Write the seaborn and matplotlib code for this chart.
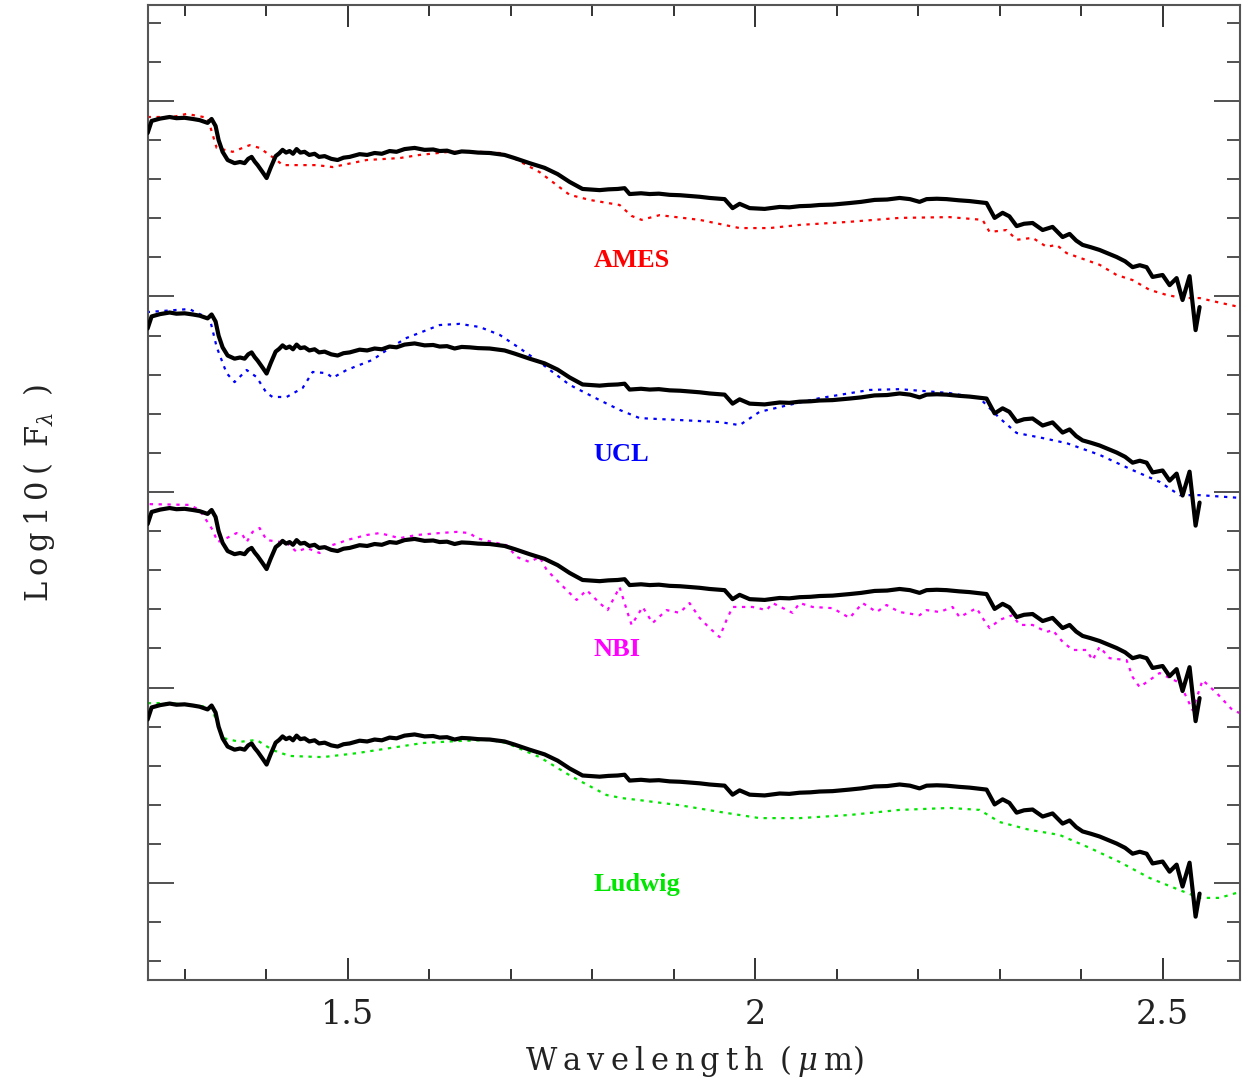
import numpy as np
import pandas as pd
import matplotlib
matplotlib.use("Agg")
import matplotlib.pyplot as plt
from matplotlib.ticker import MultipleLocator, FuncFormatter
import seaborn as sns

# ---------------- data (log10 F_lambda, arbitrary units, base = bottom panel) -------------
obs_wl = [1.2546, 1.2595, 1.2700, 1.2816, 1.2900, 1.300, 1.3100, 1.3184, 1.3282, 1.3331, 1.338,
          1.3417, 1.3466, 1.3528, 1.3613, 1.3680, 1.3736, 1.3780, 1.3822, 1.3860, 1.3896, 1.3957,
          1.4006, 1.4055, 1.4117, 1.4160, 1.4202, 1.4245, 1.4288, 1.4330, 1.4374, 1.4420, 1.4472,
          1.4530, 1.4595, 1.4650, 1.4718, 1.4800, 1.4877, 1.4950, 1.5025, 1.5147, 1.5240, 1.5331,
          1.5420, 1.5515, 1.5600, 1.5699, 1.5822, 1.5945, 1.6050, 1.6129, 1.6220, 1.6313, 1.6400,
          1.6497, 1.6600, 1.6742, 1.6926, 1.7049, 1.7233, 1.7417, 1.7577, 1.7724, 1.7883,
          1.8092, 1.8200, 1.8313, 1.8399, 1.8460, 1.8600, 1.8706, 1.8820, 1.8951, 1.9080, 1.9196,
          1.9320, 1.9442, 1.9626, 1.9724, 1.9810, 1.9933, 2.0117, 2.0301, 2.0420, 2.0546, 2.0680,
          2.0791, 2.0950, 2.1160, 2.1300, 2.1466, 2.1620, 2.1773, 2.1900, 2.2018, 2.2104, 2.2230,
          2.2350, 2.2500, 2.2632, 2.2840, 2.2939, 2.3037, 2.3120, 2.3209, 2.3300, 2.3405, 2.3528,
          2.3650, 2.3773, 2.3859, 2.3940, 2.4018, 2.4120, 2.4227, 2.4330, 2.4436, 2.4540, 2.4632,
          2.4720, 2.4804, 2.4877, 2.5000, 2.5086, 2.5172, 2.5245, 2.5331, 2.5405, 2.5454]
obs_flux = [0.418, 0.449, 0.455, 0.459, 0.456, 0.457, 0.454, 0.451, 0.444, 0.454, 0.436,
            0.400, 0.370, 0.349, 0.341, 0.344, 0.341, 0.352, 0.357, 0.345, 0.336, 0.318,
            0.303, 0.329, 0.359, 0.366, 0.375, 0.368, 0.372, 0.365, 0.377, 0.368, 0.370,
            0.362, 0.365, 0.357, 0.359, 0.352, 0.349, 0.355, 0.357, 0.364, 0.362, 0.367,
            0.365, 0.372, 0.370, 0.377, 0.380, 0.375, 0.376, 0.372, 0.373, 0.367, 0.371,
            0.370, 0.368, 0.367, 0.362, 0.354, 0.341, 0.329, 0.313, 0.293, 0.275,
            0.272, 0.274, 0.275, 0.277, 0.262, 0.264, 0.262, 0.263, 0.260, 0.259, 0.257,
            0.255, 0.252, 0.249, 0.226, 0.237, 0.226, 0.224, 0.229, 0.228, 0.231, 0.232,
            0.234, 0.235, 0.239, 0.242, 0.247, 0.248, 0.252, 0.249, 0.242, 0.249, 0.250,
            0.249, 0.246, 0.244, 0.239, 0.201, 0.214, 0.205, 0.180, 0.186, 0.188, 0.170,
            0.178, 0.152, 0.160, 0.143, 0.132, 0.126, 0.119, 0.110, 0.101, 0.090, 0.075,
            0.080, 0.075, 0.050, 0.055, 0.029, 0.047, -0.009, 0.052, -0.086, -0.027]

ames_wl = [1.2546, 1.2853, 1.3025, 1.3282, 1.3393, 1.3589, 1.3798, 1.3920, 1.4129, 1.4202, 1.4620,
           1.4816, 1.5233, 1.5638, 1.5883, 1.6252, 1.6620, 1.6865, 1.7012, 1.7356, 1.7724, 1.7969,
           1.8337, 1.8485, 1.8607, 1.8828, 1.9319, 1.9810, 2.0178, 2.0546, 2.1160, 2.1773, 2.2387,
           2.2791, 2.2877, 2.3086, 2.3209, 2.3405, 2.3577, 2.3699, 2.3822, 2.4227, 2.4436, 2.4632,
           2.4840, 2.5049, 2.5245, 2.5454, 2.5663, 2.5945]
ames_flux = [0.459, 0.459, 0.467, 0.457, 0.380, 0.370, 0.387, 0.380, 0.349, 0.336, 0.336,
             0.331, 0.349, 0.354, 0.362, 0.370, 0.370, 0.367, 0.357, 0.318, 0.260, 0.247,
             0.234, 0.206, 0.196, 0.208, 0.196, 0.175, 0.175, 0.183, 0.191, 0.201, 0.203,
             0.196, 0.165, 0.170, 0.145, 0.150, 0.127, 0.132, 0.111, 0.081, 0.055, 0.042,
             0.017, 0.004, -0.004, -0.004, -0.014, -0.027]

ucl_wl = [1.2534, 1.3061, 1.3147, 1.3307, 1.3393, 1.3515, 1.3613, 1.3761, 1.3883, 1.4006, 1.4080,
          1.4252, 1.4448, 1.4571, 1.4742, 1.4816, 1.4988, 1.5307, 1.5515, 1.5724, 1.6129, 1.6374,
          1.6620, 1.6865, 1.7110, 1.7356, 1.7724, 1.8092, 1.8337, 1.8583, 1.9074, 1.9564, 1.9810,
          2.0055, 2.0423, 2.0791, 2.1405, 2.1773, 2.2387, 2.2755, 2.3000, 2.3209, 2.3528, 2.3822,
          2.4227, 2.4632, 2.4963, 2.5209, 2.5454, 2.5945]
ucl_flux = [0.460, 0.468, 0.458, 0.445, 0.371, 0.304, 0.281, 0.312, 0.294, 0.253, 0.243,
            0.243, 0.266, 0.307, 0.304, 0.292, 0.312, 0.338, 0.368, 0.394, 0.427, 0.430,
            0.422, 0.402, 0.368, 0.332, 0.274, 0.235, 0.210, 0.189, 0.184, 0.179, 0.171,
            0.205, 0.223, 0.240, 0.261, 0.263, 0.253, 0.240, 0.189, 0.151, 0.138, 0.125,
            0.095, 0.056, 0.026, -0.008, -0.008, -0.015]

nbi_wl = [1.2571, 1.3061, 1.3184, 1.3344, 1.3405, 1.3515, 1.3638, 1.3712, 1.3761, 1.3834, 1.3920,
          1.4006, 1.4080, 1.4252, 1.4374, 1.4497, 1.4656, 1.4742, 1.4902, 1.4988, 1.5233, 1.5393,
          1.5638, 1.5847, 1.6129, 1.6337, 1.6497, 1.6583, 1.6779, 1.6951, 1.7074, 1.7233, 1.7356,
          1.7442, 1.7601, 1.7810, 1.7933, 1.8092, 1.8190, 1.8301, 1.8337, 1.8436, 1.8485, 1.8620,
          1.8742, 1.8914, 1.9074, 1.9196, 1.9319, 1.9442, 1.9564, 1.9650, 1.9724, 1.9969, 2.0141,
          2.0215, 2.0460, 2.0546, 2.0706, 2.0951, 2.1160, 2.1319, 2.1491, 2.1613, 2.1773, 2.2018,
          2.2104, 2.2264, 2.2423, 2.2509, 2.2718, 2.2791, 2.2877, 2.3000, 2.3160, 2.3245, 2.3405,
          2.3577, 2.3650, 2.3773, 2.3896, 2.4067, 2.4141, 2.4227, 2.4350, 2.4558, 2.4632, 2.4718,
          2.4963, 2.5209, 2.5368, 2.5491, 2.5663, 2.5859, 2.5945]
nbi_flux = [0.469, 0.467, 0.454, 0.403, 0.372, 0.382, 0.395, 0.390, 0.372, 0.398, 0.408,
            0.377, 0.375, 0.370, 0.347, 0.357, 0.344, 0.360, 0.370, 0.377, 0.390, 0.395,
            0.382, 0.390, 0.395, 0.398, 0.395, 0.382, 0.372, 0.364, 0.334, 0.321, 0.334,
            0.301, 0.267, 0.224, 0.249, 0.216, 0.198, 0.242, 0.257, 0.191, 0.160, 0.206,
            0.165, 0.198, 0.191, 0.216, 0.178, 0.152, 0.129, 0.173, 0.206, 0.206, 0.198,
            0.216, 0.191, 0.216, 0.206, 0.203, 0.178, 0.216, 0.193, 0.211, 0.193, 0.185,
            0.198, 0.193, 0.206, 0.180, 0.203, 0.178, 0.152, 0.173, 0.185, 0.160, 0.160,
            0.142, 0.147, 0.117, 0.096, 0.096, 0.070, 0.104, 0.075, 0.070, 0.027, 0.001,
            0.037, 0.012, -0.058, 0.019, -0.014, -0.058, -0.065]

ludwig_wl = [1.2546, 1.2816, 1.3184, 1.3331, 1.3466, 1.3675, 1.3883, 1.4080, 1.4288, 1.4693, 1.5110,
             1.5515, 1.5920, 1.6337, 1.6742, 1.6951, 1.7356, 1.7761, 1.8178, 1.8374, 1.8583, 1.9074,
             1.9564, 2.0055, 2.0546, 2.1160, 2.1773, 2.2387, 2.2755, 2.3000, 2.3368, 2.3736, 2.4104,
             2.4472, 2.4840, 2.5209, 2.5454, 2.5699, 2.5945]
ludwig_flux = [0.460, 0.460, 0.453, 0.448, 0.371, 0.361, 0.366, 0.340, 0.325, 0.322, 0.332,
               0.345, 0.358, 0.363, 0.366, 0.358, 0.322, 0.271, 0.225, 0.217, 0.212, 0.199,
               0.182, 0.166, 0.166, 0.174, 0.187, 0.192, 0.187, 0.156, 0.136, 0.123, 0.090,
               0.054, 0.013, -0.018, -0.038, -0.038, -0.023]

model_names = ["AMES", "UCL", "NBI", "Ludwig"]
model_offsets = [1.5, 1.0, 0.5, 0.0]
model_colors = ["#ff0000", "#0000ff", "#ff00ff", "#00e600"]
label_x = [1.802, 1.802, 1.802, 1.802]
label_y = [1.593, 1.095, 0.596, -0.005]

models = {
    "AMES": (ames_wl, ames_flux),
    "UCL": (ucl_wl, ucl_flux),
    "NBI": (nbi_wl, nbi_flux),
    "Ludwig": (ludwig_wl, ludwig_flux),
}

# ---------------- style -------------
sns.set_style("ticks")
plt.rcParams["font.family"] = ["DejaVu Serif"]
plt.rcParams["mathtext.fontset"] = "dejavuserif"

fig = plt.figure(figsize=(12.58, 10.83), dpi=100)
ax = fig.add_axes([0.1176, 0.0951, 0.9857 - 0.1176, 0.9954 - 0.0951])

frames = []
for name, off in zip(model_names, model_offsets):
    wl, fl = models[name]
    frames.append(pd.DataFrame({"wl": wl, "flux": np.array(fl) + off, "model": name, "kind": "model"}))
    frames.append(pd.DataFrame({"wl": obs_wl, "flux": np.array(obs_flux) + off, "model": name, "kind": "obs"}))
df = pd.concat(frames, ignore_index=True)

for name, col in zip(model_names, model_colors):
    sub = df[(df.model == name) & (df.kind == "model")]
    sns.lineplot(data=sub, x="wl", y="flux", ax=ax, color=col, linewidth=1.6,
                 linestyle=(0, (1.5, 2.5)), estimator=None, sort=False, legend=False)
for name in model_names:
    sub = df[(df.model == name) & (df.kind == "obs")]
    sns.lineplot(data=sub, x="wl", y="flux", ax=ax, color="black", linewidth=3.0,
                 estimator=None, sort=False, legend=False, zorder=3)

for name, col, lx, ly in zip(model_names, model_colors, label_x, label_y):
    ax.text(lx, ly, name, color=col, fontsize=19, fontweight="bold",
            family="Liberation Serif", ha="left", va="center")

ax.set_xlim(1.255, 2.595)
ax.set_ylim(-0.248, 2.2455)

ax.xaxis.set_major_locator(MultipleLocator(0.5))
ax.xaxis.set_minor_locator(MultipleLocator(0.1))
ax.yaxis.set_major_locator(MultipleLocator(0.5))
ax.yaxis.set_minor_locator(MultipleLocator(0.1))
ax.xaxis.set_major_formatter(FuncFormatter(lambda v, p: "%g" % v))
ax.yaxis.set_major_formatter(FuncFormatter(lambda v, p: ""))

ax.tick_params(axis="x", which="major", direction="in", length=16, width=1.4,
               top=True, bottom=True, labelsize=24, pad=14, colors="#333333", labelcolor="#222222")
ax.tick_params(axis="x", which="minor", direction="in", length=8, width=1.4,
               top=True, bottom=True, colors="#333333")
ax.tick_params(axis="y", which="major", direction="in", length=19, width=1.2,
               left=True, right=True, colors="#333333")
ax.tick_params(axis="y", which="minor", direction="in", length=9.5, width=1.2,
               left=True, right=True, colors="#333333")
for sp in ax.spines.values():
    sp.set_color("#555555")
    sp.set_linewidth(1.5)

ax.set_xlabel("W\u2009a\u2009v\u2009e\u2009l\u2009e\u2009n\u2009g\u2009t\u2009h\u2009 (\u2009$\\mu$\u2009m)",
              fontsize=22, color="#222222", labelpad=8)
ax.set_ylabel("L\u2009o\u2009g\u20091\u20090\u2009(\u2009 F$_\\lambda$ \u2009)", fontsize=22,
              color="#222222", labelpad=62)

fig.savefig("out.png", dpi=100, facecolor="white")
